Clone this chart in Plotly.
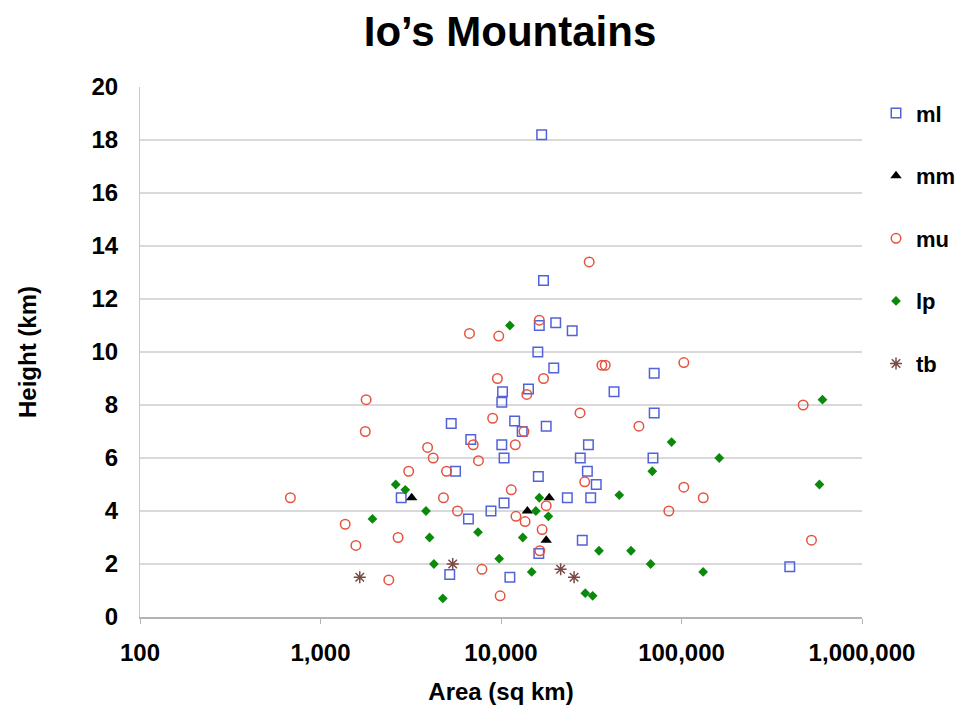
import plotly.graph_objects as go

# ---- data (area in sq km, height in km) ----
ml_area = [16800, 17200, 16300, 20100, 24800, 16000, 19600, 70600, 10200, 14200,
           42300, 10100, 70600, 5300, 11900, 17800, 13100, 6800, 10100, 30500,
           10400, 27500, 69500, 5600, 30100, 16100, 33700, 2800, 23300, 31400,
           8800, 10400, 6600, 28200, 16200, 5200, 11200, 398000]
ml_height = [18.2, 12.7, 11.0, 11.1, 10.8, 10.0, 9.4, 9.2, 8.5, 8.6,
             8.5, 8.1, 7.7, 7.3, 7.4, 7.2, 7.0, 6.7, 6.5, 6.5,
             6.0, 6.0, 6.0, 5.5, 5.5, 5.3, 5.0, 4.5, 4.5, 4.5,
             4.0, 4.3, 3.7, 2.9, 2.4, 1.6, 1.5, 1.9]

mm_area = [3200, 18500, 14000, 17800]
mm_height = [4.5, 4.5, 4.0, 2.9]

mu_area = [681, 1790, 1770, 3920, 4210, 3080, 4990, 4800, 1370, 2690,
           1570, 2390, 9550, 17200, 13900, 27400, 58100, 8990, 13400, 7020,
           12000, 7500, 29100, 11400, 17800, 5740, 12100, 13600, 16900, 16400,
           7840, 9890, 30800, 6690, 9720, 16300, 36200, 37800, 103000, 472000,
           103000, 132000, 85100, 525000]
mu_height = [4.5, 8.2, 7.0, 6.4, 6.0, 5.5, 5.5, 4.5, 3.5, 3.0,
             2.7, 1.4, 9.0, 9.0, 8.4, 7.7, 7.2, 7.5, 7.0, 6.5,
             6.5, 5.9, 5.1, 4.8, 4.2, 4.0, 3.8, 3.6, 3.3, 2.5,
             1.8, 0.8, 13.4, 10.7, 10.6, 11.2, 9.5, 9.5, 9.6, 8.0,
             4.9, 4.5, 4.0, 2.9]

lp_area = [2610, 2950, 3840, 1940, 4020, 4250, 4760, 11200, 16300, 45200,
           15600, 18300, 7460, 13200, 34900, 52500, 9770, 14800, 29300, 32200,
           604000, 88100, 161800, 68900, 581000, 67500, 131800]
lp_height = [5.0, 4.8, 4.0, 3.7, 3.0, 2.0, 0.7, 11.0, 4.5, 4.6,
             4.0, 3.8, 3.2, 3.0, 2.5, 2.5, 2.2, 1.7, 0.9, 0.8,
             8.2, 6.6, 6.0, 5.5, 5.0, 2.0, 1.7]

tb_area = [1650, 5400, 21400, 25400]
tb_height = [1.5, 2.0, 1.8, 1.5]

x_tickvals = [100, 1000, 10000, 100000, 1000000]
x_ticktext = ["100", "1,000", "10,000", "100,000", "1,000,000"]

FONT = "Liberation Sans"

fig = go.Figure()
series = [
    ("ml", ml_area, ml_height, dict(symbol="square-open", size=9.5, color="#5262d8",
                                    line=dict(width=1.5))),
    ("mm", mm_area, mm_height, dict(symbol="triangle-up", size=10, color="#000000")),
    ("mu", mu_area, mu_height, dict(symbol="circle-open", size=9.5, color="#e5533f",
                                    line=dict(width=1.5))),
    ("lp", lp_area, lp_height, dict(symbol="diamond", size=7.5, color="#0a8a0a")),
    ("tb", tb_area, tb_height, dict(symbol="asterisk-open", size=10, color="#7a4a44",
                                    line=dict(width=1.5))),
]
for i, (name, xs, ys, mk) in enumerate(series):
    fig.add_trace(go.Scatter(x=xs, y=ys, mode="markers", name=name, marker=mk,
                             legendgroup=f"g{i}"))

fig.update_layout(
    width=966, height=713,
    margin=dict(l=132, r=112, t=79, b=104, autoexpand=False),
    paper_bgcolor="white", plot_bgcolor="white",
    font=dict(family=FONT, color="black", size=24, weight="bold"),
    title=dict(text="Io’s Mountains", x=0.5125, xref="paper",
               yref="container", y=0.9677, yanchor="middle",
               font=dict(family=FONT, size=42, weight="bold", color="black")),
    showlegend=True,
    legend=dict(x=1.0194, xanchor="left", y=0.99, yanchor="top",
                font=dict(family=FONT, size=22, weight="bold"),
                tracegroupgap=31, itemwidth=30, bgcolor="rgba(0,0,0,0)"),
    xaxis=dict(type="log", range=[2, 6], tickvals=x_tickvals, ticktext=x_ticktext,
               showgrid=False, showline=True, linecolor="#b4b4b4", linewidth=1.5,
               ticks="outside", ticklen=5, tickcolor="#b4b4b4", ticklabelstandoff=8,
               tickfont=dict(family=FONT, size=24, weight="bold"),
               title=dict(text="Area (sq km)", standoff=19,
                          font=dict(family=FONT, size=24, weight="bold")),
               zeroline=False),
    yaxis=dict(range=[0, 20], dtick=2, showgrid=True, gridcolor="#d9d9d9", gridwidth=1.5,
               showline=True, linecolor="#c8c8c8", linewidth=1,
               ticks="", ticklabelstandoff=16,
               tickfont=dict(family=FONT, size=24, weight="bold"),
               title=dict(text="Height (km)", standoff=48,
                          font=dict(family=FONT, size=24, weight="bold")),
               zeroline=False),
)

fig.write_html("out.html")
